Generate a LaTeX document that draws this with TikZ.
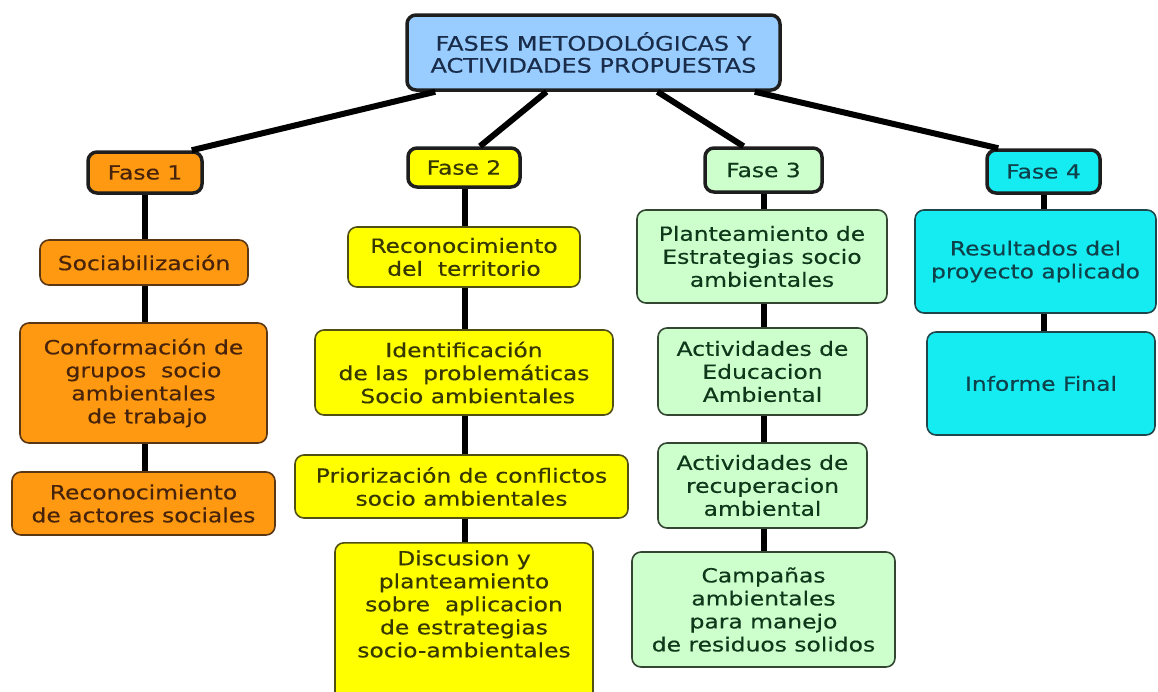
\documentclass[tikz,border=0pt]{standalone}
\usepackage{fontspec}
\setmainfont{DejaVu Sans}[FakeStretch=1.2,FakeBold=0.4]
\definecolor{cTop}{RGB}{153,204,255}
\definecolor{cOr}{RGB}{255,153,17}
\definecolor{cYe}{RGB}{255,255,0}
\definecolor{cGr}{RGB}{204,255,204}
\definecolor{cCy}{RGB}{20,236,242}
\definecolor{tTop}{RGB}{25,45,75}
\definecolor{tOr}{RGB}{70,35,10}
\definecolor{tYe}{RGB}{55,55,0}
\definecolor{tGr}{RGB}{15,55,25}
\definecolor{tCy}{RGB}{15,65,75}
\definecolor{bDark}{RGB}{30,30,30}
\definecolor{bOr}{RGB}{90,55,20}
\definecolor{bYe}{RGB}{80,80,20}
\definecolor{bGr}{RGB}{50,70,50}
\definecolor{bCy}{RGB}{30,70,75}
\begin{document}
\begin{tikzpicture}[x=1pt,y=-1pt,
  base/.style={rounded corners=9pt, align=center, inner sep=0pt,
    font=\fontsize{19.5}{23}\selectfont},
  fase/.style={base, line width=3.5pt, draw=bDark},
  act/.style={base, line width=1.6pt},
  bx/.style 2 args={minimum width=#1, minimum height=#2},
  orb/.style={fill=cOr, text=tOr},
  yeb/.style={fill=cYe, text=tYe},
  grb/.style={fill=cGr, text=tGr},
  cyb/.style={fill=cCy, text=tCy},
  link/.style={line width=6pt, draw=black}]
\useasboundingbox (0,0) rectangle (1158,691);
\fill[white] (0,0) rectangle (1158,691);

% top
\node[fase, fill=cTop, text=tTop, bx={373}{75},
  font=\fontsize{20}{22}\selectfont] (top) at (593.5,52.5)
  {FASES METODOLÓGICAS Y\\ACTIVIDADES PROPUESTAS};

% phase 1
\node[fase, orb, bx={114}{41}] (f1) at (145,172.5) {Fase 1};
\node[act, orb, draw=bOr, bx={208}{45}] (s1) at (144,262.5) {Sociabilización};
\node[act, orb, draw=bOr, bx={247}{120}] (c1) at (143.5,383)
  {Conformación de\\grupos\ \ socio\\ambientales\\\ de trabajo};
\node[act, orb, draw=bOr, bx={263}{63}] (r1) at (143.5,503.5)
  {Reconocimiento\\de actores sociales};

% phase 2
\node[fase, yeb, bx={112}{39}] (f2) at (464,167.5) {Fase 2};
\node[act, yeb, draw=bYe, bx={232}{60}] (t2) at (464,257)
  {Reconocimiento\\del\ \ territorio};
\node[act, yeb, draw=bYe, bx={298}{85}] (i2) at (464,372.5)
  {Identificación\\de las\ \ problemáticas\\\ Socio ambientales};
\node[act, yeb, draw=bYe, bx={333}{63}] (p2) at (461.5,486.5)
  {Priorización de conflictos\\socio ambientales};
\node[act, yeb, draw=bYe, bx={258}{160}, anchor=north] (d2) at (464,542)
  {\\[-1pt]Discusion y\\planteamiento\\sobre\ \ aplicacion\\de estrategias\\socio-ambientales\\[22pt]};

% phase 3
\node[fase, grb, bx={117}{44}] (f3) at (763.5,170) {Fase 3};
\node[act, grb, draw=bGr, bx={250}{93}] (pl3) at (762,256.5)
  {Planteamiento de\\Estrategias socio\\ambientales};
\node[act, grb, draw=bGr, bx={209}{87}] (e3) at (762.5,371.5)
  {Actividades de\\Educacion\\Ambiental};
\node[act, grb, draw=bGr, bx={209}{85}] (rc3) at (762.5,485.5)
  {Actividades de\\recuperacion\\ambiental};
\node[act, grb, draw=bGr, bx={263}{115}] (c3) at (763.5,609.5)
  {Campañas\\ambientales\\para manejo\\de residuos solidos};

% phase 4
\node[fase, cyb, bx={113}{43}] (f4) at (1043.5,171.5) {Fase 4};
\node[act, cyb, draw=bCy, bx={241}{103}] (r4) at (1035.5,261.5)
  {Resultados del\\proyecto aplicado};
\node[act, cyb, draw=bCy, bx={228}{103}] (i4) at (1041,383.5)
  {Informe Final};

% links from top
\draw[link] ([xshift=-12pt]f1.north east) -- ([xshift=30pt]top.south west);
\draw[link] ([xshift=16pt]f2.north) -- ([xshift=-47pt]top.south);
\draw[link] ([xshift=-20pt]f3.north) -- ([xshift=64pt]top.south);
\draw[link] ([xshift=13pt]f4.north west) -- ([xshift=-27pt]top.south east);

% column 1
\draw[link] (f1.south) -- (f1.south |- s1.north);
\draw[link] (f1.south |- s1.south) -- (f1.south |- c1.north);
\draw[link] (f1.south |- c1.south) -- (f1.south |- r1.north);
% column 2
\draw[link] ([xshift=1pt]f2.south) -- ([xshift=1pt]f2.south |- t2.north);
\draw[link] ([xshift=1pt]f2.south |- t2.south) -- ([xshift=1pt]f2.south |- i2.north);
\draw[link] ([xshift=1pt]f2.south |- i2.south) -- ([xshift=1pt]f2.south |- p2.north);
\draw[link] ([xshift=1pt]f2.south |- p2.south) -- ([xshift=1pt]f2.south |- d2.north);
% column 3
\draw[link] (f3.south) -- (f3.south |- pl3.north);
\draw[link] (f3.south |- pl3.south) -- (f3.south |- e3.north);
\draw[link] (f3.south |- e3.south) -- (f3.south |- rc3.north);
\draw[link] (f3.south |- rc3.south) -- (f3.south |- c3.north);
% column 4
\draw[link] (f4.south) -- (f4.south |- r4.north);
\draw[link] (f4.south |- r4.south) -- (f4.south |- i4.north);
\end{tikzpicture}
\end{document}
